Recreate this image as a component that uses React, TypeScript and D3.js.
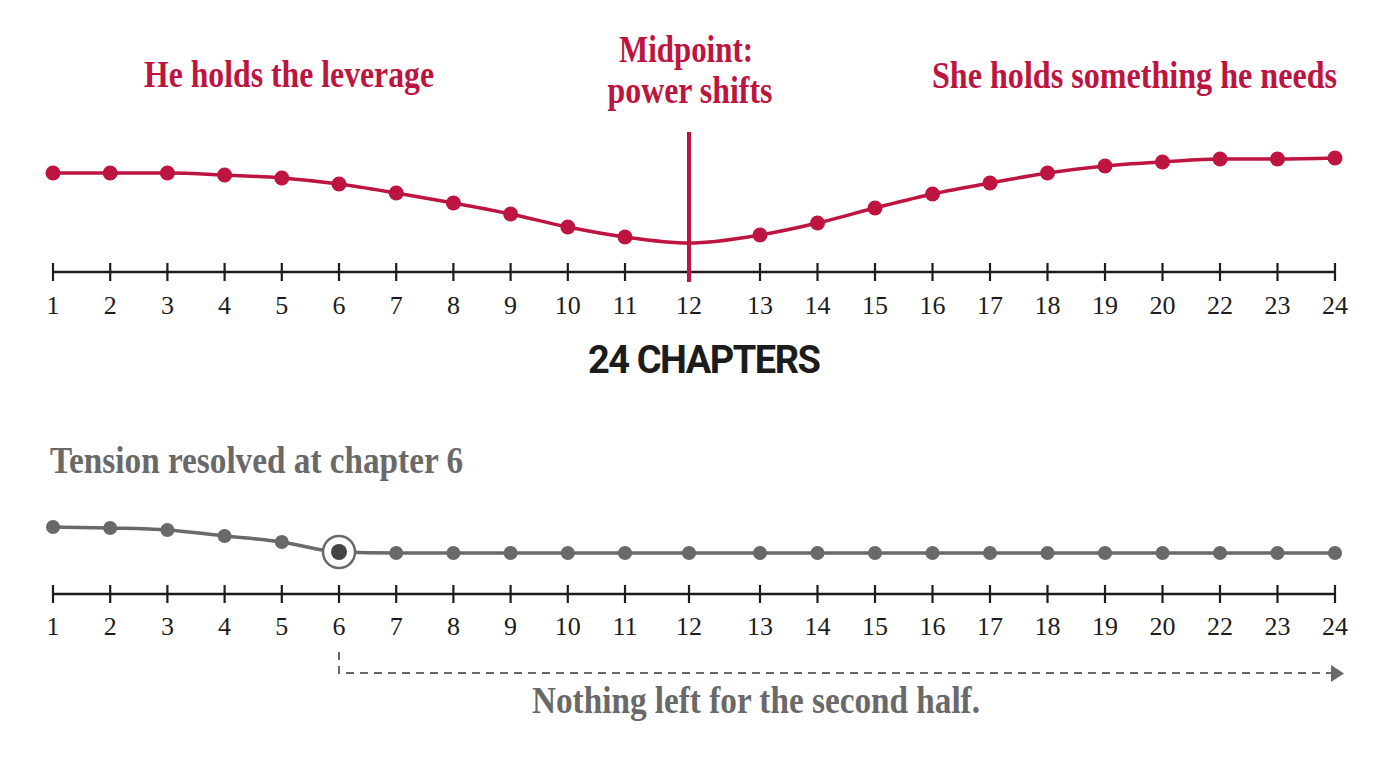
import React, { useEffect, useRef } from "react";
import * as d3 from "d3";

const chapterLabels = ["1","2","3","4","5","6","7","8","9","10","11","12","13","14","15","16","17","18","19","20","22","23","24"];
const leverageValues = [77, 77, 77, 75, 72, 66, 57, 47, 36, 23, 13, 7, 15, 27, 42, 56, 67, 77, 84, 88, 91, 91, 92];
const leverageDots = chapterLabels.map((c) => c !== "12");
const tensionValues = [43, 42, 40, 34, 28, 18, 17, 17, 17, 17, 17, 17, 17, 17, 17, 17, 17, 17, 17, 17, 17, 17, 17];
const resolvedIndex = 5;
const midpointIndex = 11;

const RED = "#bd1440";
const GREY = "#696969";
const INK = "#1c1c1c";
const SERIF = "'Liberation Serif', 'DejaVu Serif', serif";

export default function App() {
  const ref = useRef<SVGSVGElement>(null);

  useEffect(() => {
    document.body.style.margin = "0";
    const svg = d3.select(ref.current);
    svg.selectAll("*").remove();

    const idx = chapterLabels.map((_, i) => i);
    const x = d3.scaleLinear().domain([0, 10, 11, 12, 22]).range([53, 625, 689, 760, 1335]);
    const yTop = d3.scaleLinear().domain([0, 100]).range([250, 150]);
    const yBot = d3.scaleLinear().domain([0, 100]).range([570, 470]);

    const drawAxis = (yPos: number, labelBase: number) => {
      const g = svg.append("g");
      g.append("line").attr("x1", x(0)).attr("x2", x(22)).attr("y1", yPos).attr("y2", yPos)
        .attr("stroke", INK).attr("stroke-width", 2.5);
      g.selectAll("line.tick").data(idx).join("line").attr("class", "tick")
        .attr("x1", (d) => x(d)).attr("x2", (d) => x(d))
        .attr("y1", yPos - 9).attr("y2", yPos + 9)
        .attr("stroke", INK).attr("stroke-width", 2.2);
      g.selectAll("text").data(idx).join("text")
        .attr("x", (d) => x(d)).attr("y", labelBase)
        .attr("text-anchor", "middle")
        .attr("font-family", SERIF).attr("font-size", 26).attr("fill", INK)
        .text((d) => chapterLabels[d]);
    };

    // Top chart
    drawAxis(272, 314);

    svg.append("line").attr("x1", x(midpointIndex)).attr("x2", x(midpointIndex))
      .attr("y1", 132).attr("y2", 282).attr("stroke", RED).attr("stroke-width", 4);

    const lineTop = d3.line<number>().x((d, i) => x(i)).y((d) => yTop(d)).curve(d3.curveMonotoneX);
    svg.append("path").attr("d", lineTop(leverageValues)!).attr("fill", "none")
      .attr("stroke", RED).attr("stroke-width", 3.5);
    svg.append("g").selectAll("circle").data(idx.filter((i) => leverageDots[i])).join("circle")
      .attr("cx", (i) => x(i)).attr("cy", (i) => yTop(leverageValues[i])).attr("r", 7.5).attr("fill", RED);

    const title = (txt: string, cx: number, y: number, len: number, fill: string, size: number, anchor = "middle") =>
      svg.append("text").attr("x", cx).attr("y", y).attr("text-anchor", anchor)
        .attr("font-family", SERIF).attr("font-weight", "bold").attr("font-size", size)
        .attr("fill", fill).attr("textLength", len).attr("lengthAdjust", "spacingAndGlyphs").text(txt);

    title("He holds the leverage", 144, 87, 290, RED, 37, "start");
    title("Midpoint:", 686, 62, 134, RED, 37);
    title("power shifts", 690, 103, 165, RED, 37);
    title("She holds something he needs", 932, 88, 405, RED, 37, "start");

    svg.append("text").attr("x", 705).attr("y", 373).attr("text-anchor", "middle")
      .attr("font-family", "Roboto, 'DejaVu Sans', sans-serif").attr("font-weight", "bold")
      .attr("font-size", 38).attr("fill", INK).attr("textLength", 234).attr("lengthAdjust", "spacing")
      .attr("letter-spacing", 1)
      .text("24 CHAPTERS");

    // Bottom chart
    title("Tension resolved at chapter 6", 50, 473, 413, GREY, 37, "start");
    drawAxis(594, 635);

    const lineBot = d3.line<number>().x((d, i) => x(i)).y((d) => yBot(d)).curve(d3.curveMonotoneX);
    svg.append("path").attr("d", lineBot(tensionValues)!).attr("fill", "none")
      .attr("stroke", GREY).attr("stroke-width", 3.5);
    svg.append("g").selectAll("circle").data(idx.filter((i) => i !== resolvedIndex)).join("circle")
      .attr("cx", (i) => x(i)).attr("cy", (i) => yBot(tensionValues[i])).attr("r", 7).attr("fill", GREY);
    svg.append("circle").attr("cx", x(resolvedIndex)).attr("cy", yBot(tensionValues[resolvedIndex]))
      .attr("r", 16).attr("fill", "#fff").attr("stroke", GREY).attr("stroke-width", 2.5);
    svg.append("circle").attr("cx", x(resolvedIndex)).attr("cy", yBot(tensionValues[resolvedIndex]))
      .attr("r", 8).attr("fill", "#444");

    const ax = x(resolvedIndex);
    const ex = x(22);
    svg.append("path").attr("d", `M${ax},652 L${ax},673 L${ex - 4},673`)
      .attr("fill", "none").attr("stroke", GREY).attr("stroke-width", 2).attr("stroke-dasharray", "8,6");
    svg.append("path").attr("d", `M${ex - 4},665 L${ex + 9},673.5 L${ex - 4},682 Z`).attr("fill", GREY);

    title("Nothing left for the second half.", 532, 713, 448, GREY, 37, "start");
  }, []);

  return <svg ref={ref} width={1400} height={768} style={{ display: "block", background: "#fff" }} />;
}
